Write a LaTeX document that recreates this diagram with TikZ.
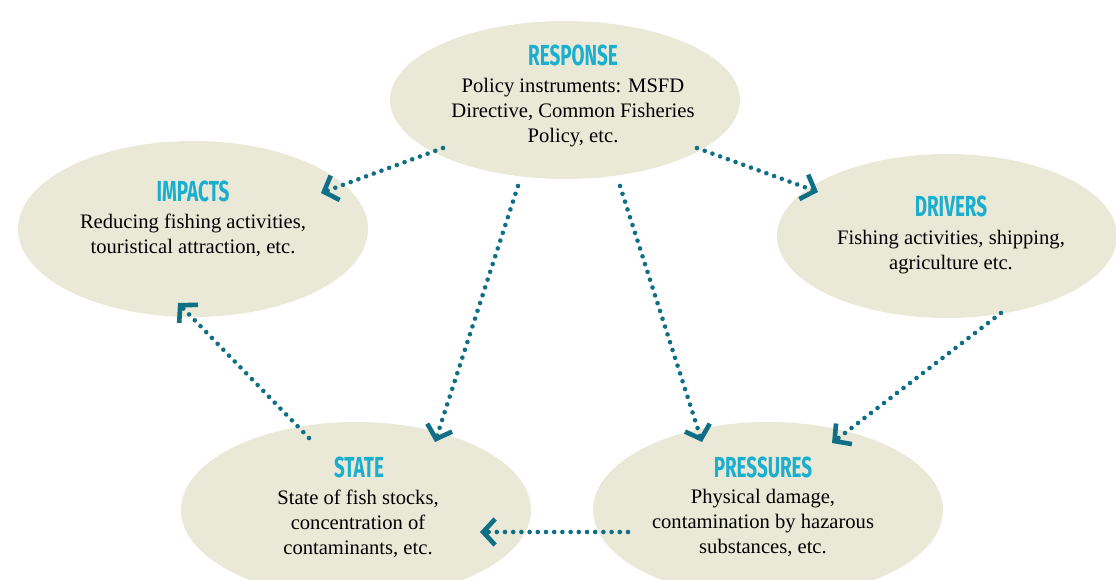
\documentclass[tikz,border=0pt]{standalone}
\usepackage{fontspec}
\setmainfont{Liberation Serif}
\newfontfamily\headfont[FakeStretch=0.65]{Fira Sans}
\usetikzlibrary{shapes.geometric,arrows.meta}
\definecolor{ovalfill}{HTML}{EAE9D7}
\definecolor{headcol}{HTML}{1AAECF}
\definecolor{linkcol}{HTML}{0F6F87}
\begin{document}
\begin{tikzpicture}[x=1pt,y=-1pt,
  oval/.style={ellipse, fill=ovalfill, draw=none, inner sep=0pt,
               minimum width=350pt, minimum height=176pt},
  heading/.style={anchor=base, inner sep=0pt, text=headcol,
                  font=\headfont\bfseries\fontsize{29}{30}\selectfont},
  body/.style={anchor=north, inner sep=0pt, align=center,
               font=\fontsize{20.6}{25.3}\selectfont},
  link/.style={draw=linkcol, line width=4.6pt, line cap=round,
               dash pattern=on 0pt off 8.2pt,
               -{Straight Barb[length=12pt, width=26pt, line width=4.6pt, sharp]}}
]
\useasboundingbox (0,0) rectangle (1116,580);
\clip (0,0) rectangle (1116,580);

% the five DPSIR ovals
\node[oval, minimum height=158pt] (resp) at (565,100) {};
\node[oval] (imp)  at (193,229) {};
\node[oval, minimum width=340pt, minimum height=164pt] (drv) at (947,236) {};
\node[oval] (state) at (356,510) {};
\node[oval] (pres)  at (768,510) {};

% headings and descriptions
\node[heading] (respT) at (573,66) {RESPONSE};
\node[body] (respB) at (573,74.3) {\strut Policy instruments: MSFD\\Directive, Common Fisheries\\Policy, etc.};

\node[heading] (impT) at (193,202) {IMPACTS};
\node[body] (impB) at (193,210.3) {\strut Reducing fishing activities,\\touristical attraction, etc.};

\node[heading] (drvT) at (951,217) {DRIVERS};
\node[body] (drvB) at (951,226.3) {\strut Fishing activities, shipping,\\agriculture etc.};

\node[heading] (stateT) at (359,477) {STATE};
\node[body] (stateB) at (358,486.3) {\strut State of fish stocks,\\concentration of\\contaminants, etc.};

\node[heading] (presT) at (763,477) {PRESSURES};
\node[body] (presB) at (763,485.3) {\strut Physical damage,\\contamination by hazarous\\substances, etc.};

% dotted causal links
\draw[link] ([shift={(-122,48)}]resp.center) -- ([shift={(128,-36)}]imp.center);
\draw[link] ([shift={(132,48)}]resp.center) -- ([shift={(-129,-44)}]drv.center);
\draw[link] ([shift={(-47,86)}]resp.center) -- ([shift={(79,-68)}]state.center);
\draw[link] ([shift={(55,86)}]resp.center) -- ([shift={(-66,-68)}]pres.center);
\draw[link] ([shift={(54,77)}]drv.center) -- ([shift={(64,-67)}]pres.center);
\draw[link] ([shift={(-140,22)}]pres.center) -- ([shift={(124,22)}]state.center);
\draw[link] ([shift={(-47,-72)}]state.center) -- ([shift={(-15,74)}]imp.center);
\end{tikzpicture}
\end{document}
